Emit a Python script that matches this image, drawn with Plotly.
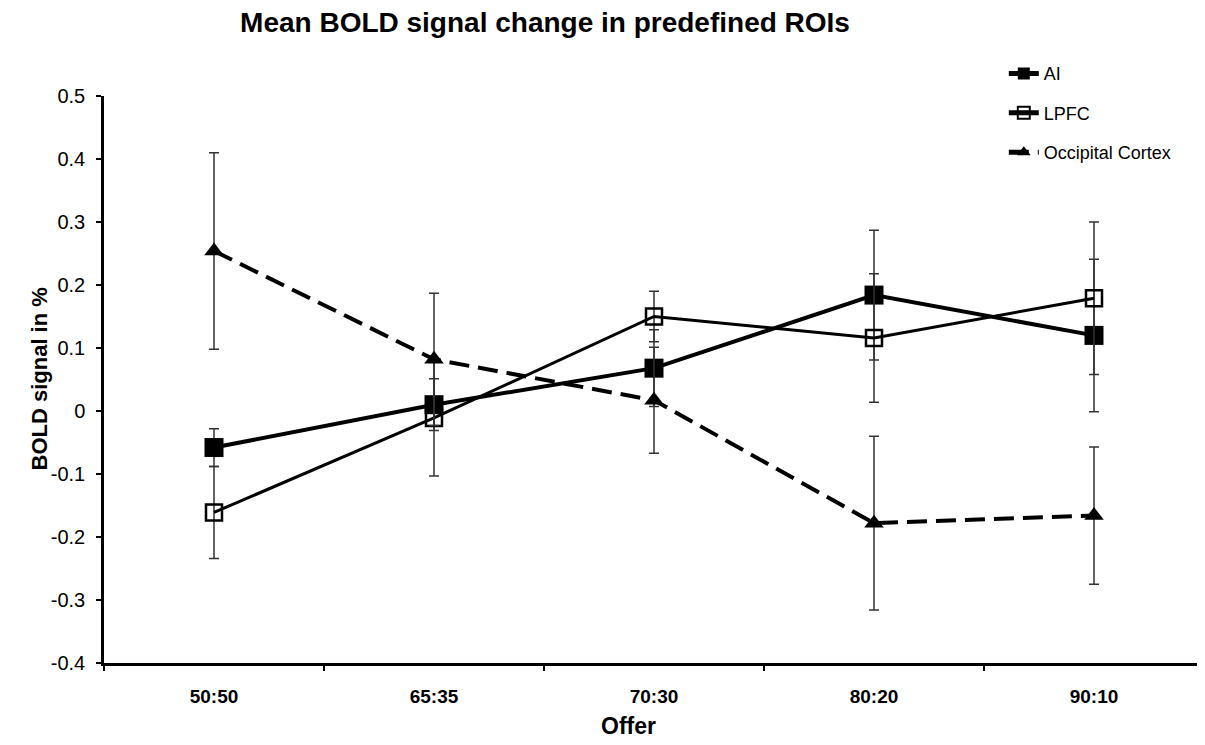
import plotly.graph_objects as go

offers = ["50:50", "65:35", "70:30", "80:20", "90:10"]

ai_mean = [-0.058, 0.010, 0.068, 0.184, 0.120]
ai_err = [0.030, 0.041, 0.061, 0.103, 0.121]

lpfc_mean = [-0.161, -0.011, 0.150, 0.116, 0.179]
lpfc_err = [0.073, 0.092, 0.040, 0.102, 0.121]

occ_mean = [0.254, 0.082, 0.017, -0.178, -0.166]
occ_err = [0.156, 0.105, 0.084, 0.138, 0.109]

y_tick_vals = [0.5, 0.4, 0.3, 0.2, 0.1, 0, -0.1, -0.2, -0.3, -0.4]
y_tick_text = ["0.5", "0.4", "0.3", "0.2", "0.1", "0", "-0.1", "-0.2", "-0.3", "-0.4"]

FONT = "Liberation Sans, Arial, sans-serif"
ERR_COLOR = "#333333"

# page has an 8px body margin; figure coordinates = page coordinates - 8
W, H = 1197, 737

fig = go.Figure()

fig.add_trace(go.Scatter(
    x=offers, y=ai_mean, name="AI", mode="lines+markers",
    line=dict(color="black", width=4),
    marker=dict(symbol="square", size=19, color="black"),
    error_y=dict(type="data", array=ai_err, visible=True, color=ERR_COLOR, thickness=1.5, width=5),
    legendgroup="ai",
))
fig.add_trace(go.Scatter(
    x=offers, y=lpfc_mean, name="LPFC", mode="lines+markers",
    line=dict(color="black", width=3),
    marker=dict(symbol="square-open", size=16, color="black", line=dict(width=2.5, color="black")),
    error_y=dict(type="data", array=lpfc_err, visible=True, color=ERR_COLOR, thickness=1.5, width=5),
    legendgroup="lpfc",
))
fig.add_trace(go.Scatter(
    x=offers, y=occ_mean, name="Occipital Cortex", mode="lines+markers",
    line=dict(color="black", width=4, dash="20px,9px"),
    marker=dict(symbol="triangle-up", size=17, color="black"),
    error_y=dict(type="data", array=occ_err, visible=True, color=ERR_COLOR, thickness=1.5, width=5),
    legendgroup="occ",
))

fig.update_layout(
    width=W, height=H,
    paper_bgcolor="white", plot_bgcolor="white",
    margin=dict(l=96, r=1, t=88, b=82),
    font=dict(family=FONT, color="black"),
    title=dict(text="<b>Mean BOLD signal change in predefined ROIs</b>",
               x=(545 - 8) / W, xanchor="center", y=1 - (22 - 8) / H, yanchor="middle",
               font=dict(size=28, family=FONT, color="black")),
    showlegend=True,
    legend=dict(x=0.818, xanchor="left", y=1.072, yanchor="top",
                font=dict(size=18, family=FONT, color="black"),
                itemsizing="constant", tracegroupgap=13,
                bgcolor="rgba(0,0,0,0)"),
    xaxis=dict(type="category", range=[-0.5, 4.5], showline=True, linecolor="black", linewidth=2.5,
               ticks="outside", tickson="boundaries", ticklen=5, tickwidth=2, tickcolor="black",
               showgrid=False, zeroline=False, ticklabelstandoff=14,
               tickfont=dict(size=19, family=FONT, color="black", weight="bold")),
    yaxis=dict(range=[-0.4, 0.5], tickvals=y_tick_vals, ticktext=y_tick_text,
               showline=True, linecolor="black", linewidth=2.5,
               ticks="outside", ticklen=5, tickwidth=2, tickcolor="black",
               showgrid=False, zeroline=False, ticklabelstandoff=7,
               tickfont=dict(size=20, family=FONT, color="black")),
    annotations=[
        dict(text="<b>BOLD signal in %</b>", textangle=-90, xref="paper", yref="paper",
             x=(39 - 104) / 1100, y=0.5, xanchor="center", yanchor="middle", showarrow=False,
             font=dict(size=22, family=FONT, color="black")),
        dict(text="<b>Offer</b>", xref="paper", yref="paper",
             x=(628 - 104) / 1100, y=-(726 - 663) / 567, xanchor="center", yanchor="middle",
             showarrow=False, font=dict(size=23, family=FONT, color="black")),
    ],
)

fig.write_html("out.html")
